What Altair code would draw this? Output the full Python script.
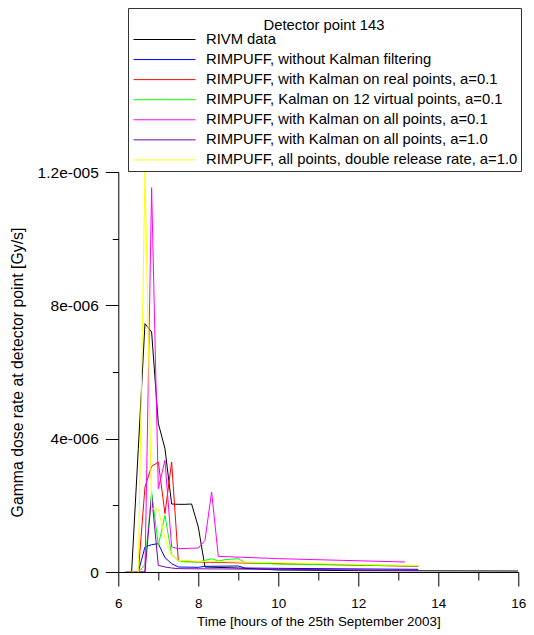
import altair as alt
import pandas as pd

series_names = [
    "RIVM data",
    "RIMPUFF, without Kalman filtering",
    "RIMPUFF, with Kalman on real points, a=0.1",
    "RIMPUFF, Kalman on 12 virtual points, a=0.1",
    "RIMPUFF, with Kalman on all points, a=0.1",
    "RIMPUFF, with Kalman on all points, a=1.0",
    "RIMPUFF, all points, double release rate, a=1.0",
]
series_colors = ["#000000", "#0000ff", "#ff0000", "#00ff00", "#ff00ff", "#8000b0", "#ffff00"]

# times in hours, values in 1e-6 Gy/s
rivm_t = [6.333, 6.5, 6.667, 6.833, 7.0, 7.167, 7.333, 7.5, 7.667, 7.833, 8.0, 8.167, 9.0, 10.0, 12.0, 16.0]
rivm_v = [0, 3.7, 7.45, 7.2, 4.46, 3.7, 2.04, 2.03, 2.03, 2.04, 1.35, 0.15, 0.12, 0.06, 0.04, 0.03]

blue_t = [6.167, 6.333, 6.5, 6.667, 6.833, 7.0, 7.167, 7.333, 7.5, 8.0, 8.167, 9.0, 9.167, 10.0, 13.5]
blue_v = [0, 0, 0, 0.75, 0.82, 0.85, 0.43, 0.25, 0.15, 0.14, 0.17, 0.18, 0.12, 0.11, 0.08]

red_t = [6.167, 6.333, 6.5, 6.667, 6.833, 7.0, 7.167, 7.333, 7.5, 8.0, 10.0, 13.5]
red_v = [0, 0, 0, 2.55, 3.17, 3.3, 1.75, 3.3, 0.35, 0.3, 0.25, 0.17]

green_t = [6.167, 6.5, 6.667, 6.833, 7.0, 7.167, 7.333, 7.5, 7.667, 8.0, 8.167, 8.333, 8.5, 8.667, 9.0, 9.167, 10.0, 13.5]
green_v = [0, 0, 0.22, 2.4, 0.8, 1.7, 0.52, 0.34, 0.3, 0.3, 0.35, 0.4, 0.33, 0.37, 0.4, 0.28, 0.24, 0.18]

magenta_t = [6.167, 6.667, 6.833, 7.0, 7.167, 7.333, 7.5, 8.0, 8.167, 8.333, 8.5, 10.0, 13.167]
magenta_v = [0, 0, 11.53, 2.5, 3.35, 0.75, 0.7, 0.72, 0.95, 2.4, 0.47, 0.4, 0.3]

purple_t = [6.167, 6.667, 6.833, 7.0, 7.167, 7.333, 7.5, 10.0, 13.5]
purple_v = [0, 0, 2.3, 0.2, 0.15, 0.12, 0.1, 0.08, 0.05]

yellow_t = [6.167, 6.5, 6.667, 6.833, 7.0, 7.167, 7.333, 7.5, 8.0, 10.0, 13.5]
yellow_v = [0, 0, 12.0, 1.9, 1.88, 1.0, 0.5, 0.35, 0.32, 0.28, 0.19]

series_t = [rivm_t, blue_t, red_t, green_t, magenta_t, purple_t, yellow_t]
series_v = [rivm_v, blue_v, red_v, green_v, magenta_v, purple_v, yellow_v]

y_ticks = [0, 2e-6, 4e-6, 6e-6, 8e-6, 1e-5, 1.2e-5]
y_major = [0, 4e-6, 8e-6, 1.2e-5]
y_labels = ["0", "4e-006", "8e-006", "1.2e-005"]
x_ticks = [6, 7, 8, 9, 10, 11, 12, 13, 14, 15, 16]
x_major = [6, 8, 10, 12, 14, 16]

rows = []
for si, (name, ts, vs) in enumerate(zip(series_names, series_t, series_v)):
    for t, v in zip(ts, vs):
        rows.append({"series": name, "order": si, "time": t, "dose": v * 1e-6})
df = pd.DataFrame(rows)

FONT = "Liberation Sans"

y_label_expr = "".join(
    f"abs(datum.value - {v!r}) < 1e-9 ? '{l}' : " for v, l in zip(y_major, y_labels)
) + "''"
y_major_test = " || ".join(f"abs(datum.value - {v!r}) < 1e-9" for v in y_major)
x_label_expr = "".join(
    f"datum.value == {v} ? '{v}' : " for v in x_major
) + "''"
x_major_test = " || ".join(f"datum.value == {v}" for v in x_major)

chart = (
    alt.Chart(df)
    .mark_line(strokeWidth=1, clip=True)
    .encode(
        x=alt.X(
            "time:Q",
            scale=alt.Scale(domain=[6, 16], nice=False, zero=False),
            axis=alt.Axis(
                title="Time [hours of the 25th September 2003]",
                values=x_ticks,
                labelExpr=x_label_expr,
                tickSize={"condition": {"test": x_major_test, "value": 14}, "value": 8},
                labelPadding=10,
                labelFlush=False,
                labelFontSize=13.5,
                titleFontSize=13.4,
                titlePadding=5,
                grid=False,
            ),
        ),
        y=alt.Y(
            "dose:Q",
            scale=alt.Scale(domain=[0, 1.2e-5], nice=False),
            axis=alt.Axis(
                title="Gamma dose rate at detector point [Gy/s]",
                values=y_ticks,
                labelExpr=y_label_expr,
                tickSize={"condition": {"test": y_major_test, "value": 13}, "value": 6},
                labelPadding=7,
                labelFlush=False,
                labelFontSize=15.5,
                titleFontSize=15.8,
                titlePadding=12,
                grid=False,
            ),
        ),
        color=alt.Color(
            "series:N",
            scale=alt.Scale(domain=series_names, range=series_colors),
            sort=series_names,
            legend=alt.Legend(
                orient="none",
                legendX=9.7,
                legendY=-164,
                title="Detector point 143",
                titleAnchor="middle",
                titleFontWeight="normal",
                titleFontSize=14.8,
                titleFont=FONT,
                titleColor="black",
                titleBaseline="line-top",
                titleLineHeight=30,
                titlePadding=6.2,
                labelFontSize=14.8,
                labelFont=FONT,
                labelColor="black",
                labelLimit=0,
                labelOffset=10,
                symbolType="stroke",
                symbolSize=3844,
                symbolStrokeWidth=1,
                symbolOffset=2,
                clipHeight=15,
                rowPadding=4.07,
                padding=3,
                strokeColor="#333333",
                fillColor="white",
            ),
        ),
        order=alt.Order("order:Q"),
        detail="series:N",
    )
    .properties(
        width=400,
        height=400,
        autosize=alt.AutoSizeParams(type="none"),
        padding={"left": 110.3, "top": 164, "right": 7.7, "bottom": 62},
    )
    .configure_view(strokeWidth=0)
    .configure_axis(
        domainColor="black",
        tickColor="black",
        labelColor="black",
        titleColor="black",
        labelFont=FONT,
        titleFont=FONT,
        titleFontWeight="normal",
        domainWidth=1,
        tickWidth=1,
    )
)

chart.save("out.html", embed_options={"renderer": "svg", "actions": False})
